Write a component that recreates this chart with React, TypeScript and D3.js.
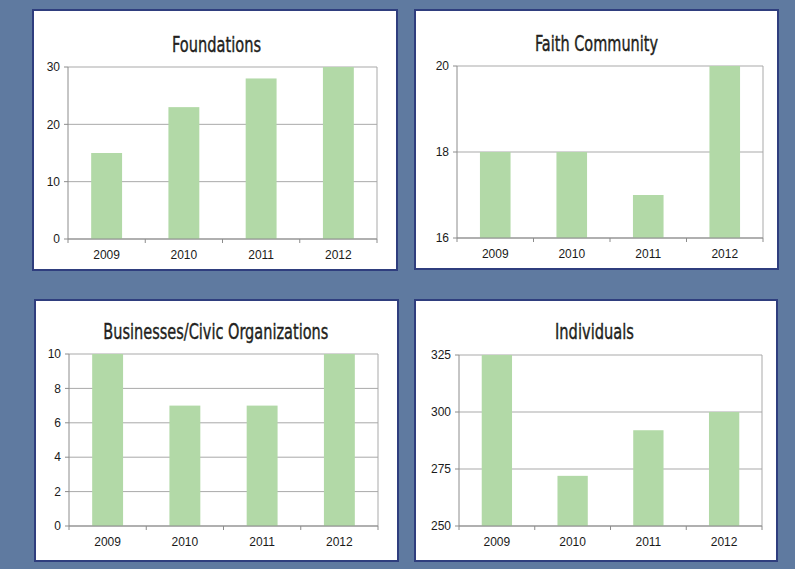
import React from "react";
import * as d3 from "d3";

const years = ["2009", "2010", "2011", "2012"];
const titles = ["Foundations", "Faith Community", "Businesses/Civic Organizations", "Individuals"];
const foundations = [15, 23, 28, 30];
const faithCommunity = [18, 18, 17, 20];
const businesses = [10, 7, 7, 10];
const individuals = [325, 272, 292, 300];
const foundationsTicks = [0, 10, 20, 30];
const faithTicks = [16, 18, 20];
const businessesTicks = [0, 2, 4, 6, 8, 10];
const individualsTicks = [250, 275, 300, 325];

const seriesList = [foundations, faithCommunity, businesses, individuals];
const tickList = [foundationsTicks, faithTicks, businessesTicks, individualsTicks];

// layout (positions only)
const layouts = [
  { box: [33, 10, 397, 270], plot: [68, 67, 377, 239], tx: 216.5, ty: 52, tw: 89 },
  { box: [415, 10, 778, 269], plot: [457, 66, 763, 238], tx: 596.5, ty: 51, tw: 123 },
  { box: [35, 300, 398, 561], plot: [69, 354, 378, 526], tx: 215.8, ty: 339, tw: 225 },
  { box: [415, 300, 777, 561], plot: [459, 355, 762, 526], tx: 594.5, ty: 339, tw: 79 },
];

const BG = "#5f7aa0";
const BORDER = "#2f3e7e";
const BAR = "#b2d9a7";
const GRID = "#a9a9a9";
const AXIS = "#8c8c8c";
const FONT = "'Liberation Sans', Arial, sans-serif";
const TFONT = "'DejaVu Sans Condensed', 'DejaVu Sans', sans-serif";

function Panel({ i }: { i: number }) {
  const L = layouts[i];
  const values = seriesList[i];
  const ticks = tickList[i];
  const [x0, y0, x1, y1] = L.plot;
  const x = d3.scaleBand<string>().domain(years).range([x0, x1]).paddingInner(0.6).paddingOuter(0.3);
  const y = d3.scaleLinear().domain([ticks[0], ticks[ticks.length - 1]]).range([y1, y0]);
  const boundaries = d3.range(years.length + 1).map((k) => x0 + ((x1 - x0) * k) / years.length);
  const [bx0, by0, bx1, by1] = L.box;
  return (
    <g>
      <rect x={bx0} y={by0} width={bx1 - bx0} height={by1 - by0} fill="#ffffff" stroke={BORDER} strokeWidth={2} />
      <text
        x={L.tx}
        y={L.ty}
        textAnchor="middle"
        fontFamily={TFONT}
        fontSize={22}
        fill="#231f20"
        stroke="#231f20"
        strokeWidth={0.4}
        textLength={L.tw}
        lengthAdjust="spacingAndGlyphs"
      >
        {titles[i]}
      </text>
      {ticks.map((t) => (
        <line key={"g" + t} x1={x0} x2={x1} y1={y(t)} y2={y(t)} stroke={GRID} strokeWidth={1} />
      ))}
      <line x1={x1} x2={x1} y1={y0} y2={y1} stroke={GRID} strokeWidth={1} />
      {values.map((v, k) => (
        <rect
          key={"b" + k}
          x={x(years[k])!}
          y={y(v)}
          width={x.bandwidth()}
          height={y1 - y(v)}
          fill={BAR}
        />
      ))}
      <line x1={x0} x2={x0} y1={y0} y2={y1} stroke={AXIS} strokeWidth={1} />
      <line x1={x0} x2={x1} y1={y1} y2={y1} stroke={AXIS} strokeWidth={1} />
      {ticks.map((t) => (
        <g key={"t" + t}>
          <line x1={x0 - 4} x2={x0} y1={y(t)} y2={y(t)} stroke={AXIS} strokeWidth={1} />
          <text x={x0 - 8} y={y(t)} dy="0.35em" textAnchor="end" fontFamily={FONT} fontSize={12} fill="#1a1a1a">
            {t}
          </text>
        </g>
      ))}
      {boundaries.map((bx, k) => (
        <line key={"x" + k} x1={bx} x2={bx} y1={y1} y2={y1 + 4} stroke={AXIS} strokeWidth={1} />
      ))}
      {years.map((yr) => (
        <text
          key={"l" + yr}
          x={x(yr)! + x.bandwidth() / 2}
          y={y1 + 20}
          textAnchor="middle"
          fontFamily={FONT}
          fontSize={12}
          fill="#1a1a1a"
        >
          {yr}
        </text>
      ))}
    </g>
  );
}

export default function App() {
  return (
    <svg
      width={795}
      height={569}
      style={{ position: "absolute", left: 0, top: 0, display: "block" }}
    >
      <rect x={0} y={0} width={795} height={569} fill={BG} />
      {layouts.map((_, i) => (
        <Panel key={i} i={i} />
      ))}
    </svg>
  );
}
